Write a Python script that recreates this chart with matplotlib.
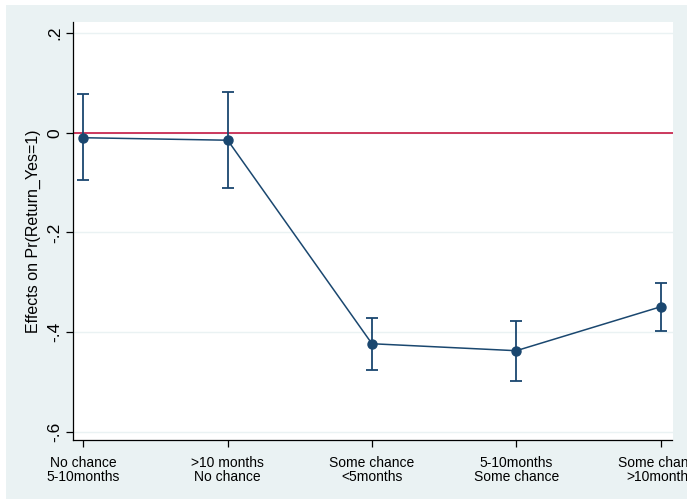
import matplotlib.pyplot as plt
from matplotlib.patches import Rectangle

plt.rcParams['font.family'] = ['Liberation Sans', 'DejaVu Sans']

# data
categories = ['No chance\n5-10months', '>10 months\nNo chance', 'Some chance\n<5months',
              '5-10months\nSome chance', 'Some chance\n>10months']
effects = [-0.010, -0.015, -0.423, -0.437, -0.349]
ci_low = [-0.095, -0.111, -0.475, -0.497, -0.397]
ci_high = [0.077, 0.082, -0.371, -0.377, -0.302]
yticks = [0.2, 0, -0.2, -0.4, -0.6]
ytick_labels = ['.2', '0', '-.2', '-.4', '-.6']

navy = '#1A476F'
bg = '#EAF2F3'

fig = plt.figure(figsize=(6.87, 5.03), dpi=100)
fig.patch.set_facecolor('white')
# stata-like outer graph region
fig.patches.append(Rectangle((6 / 687, 4 / 503), 681 / 687, 494 / 503,
                             transform=fig.transFigure, facecolor=bg,
                             edgecolor='none', zorder=-10))

ax = fig.add_axes([73 / 687, 63 / 503, 599.5 / 687, 418 / 503])
ax.set_facecolor('white')

x = list(range(1, len(categories) + 1))
yerr = [[e - lo for e, lo in zip(effects, ci_low)],
        [hi - e for e, hi in zip(effects, ci_high)]]

for yv in yticks:
    ax.axhline(yv, color=bg, lw=1.0, zorder=0)
ax.axhline(0, color='#C10534', lw=1.1, zorder=1)

ax.errorbar(x, effects, yerr=yerr, fmt='none', ecolor=navy, elinewidth=1.3,
            capsize=4, capthick=1.3, zorder=2)
ax.plot(x, effects, color=navy, lw=1.1, marker='o', markersize=6.5, zorder=3)

ax.set_xlim(0.928, 5.083)
ax.set_ylim(-0.616, 0.222)
ax.set_xticks(x)
ax.set_xticklabels(categories, fontsize=10, linespacing=1.0)
ax.set_yticks(yticks)
ax.set_yticklabels(ytick_labels, fontsize=12.5, rotation=90, va='center')
ax.set_ylabel('Effects on Pr(Return_Yes=1)', fontsize=11.5, labelpad=4)

for s in ['top', 'right']:
    ax.spines[s].set_visible(False)
for s in ['left', 'bottom']:
    ax.spines[s].set_color('black')
    ax.spines[s].set_linewidth(0.9)
ax.tick_params(axis='both', length=5, width=0.9, color='black')
ax.tick_params(axis='x', pad=6.5)
ax.tick_params(axis='y', pad=3)

fig.savefig('out.png', dpi=100)
